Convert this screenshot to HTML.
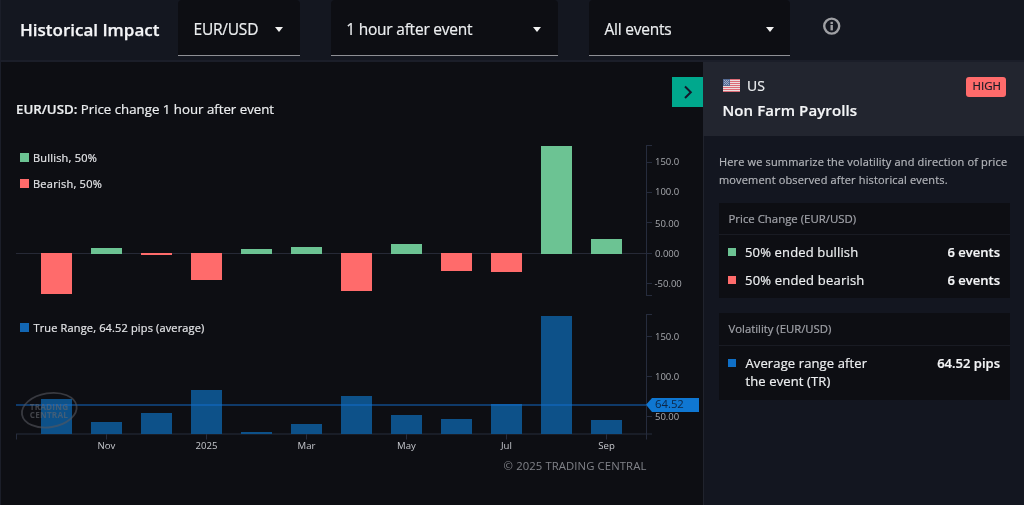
<!DOCTYPE html>
<html><head><meta charset="utf-8"><title>Historical Impact</title>
<style>
*{box-sizing:border-box;margin:0;padding:0}
html,body{-webkit-text-stroke:0.2px currentColor;width:1024px;height:505px;overflow:hidden;background:#0d0e13;font-family:"Open Sans","Liberation Sans",sans-serif;color:#e6e7ea}
.a{position:absolute;white-space:nowrap;line-height:1}
#hdr{position:absolute;left:0;top:0;width:1024px;height:62px;background:#141720;border-bottom:2px solid #1b1e29}
#lb{position:absolute;left:0;top:0;width:1px;height:505px;background:#1b1e29}
.sel{position:absolute;top:0;height:56px;background:#0d0e13;border-radius:4px 4px 0 0;border-bottom:1px solid #8e8f94}
.sel .t{position:absolute;left:15.5px;top:21.5px;font-size:15.5px;letter-spacing:-0.22px;line-height:1;color:#eceef0}
.car{position:absolute;top:27px;width:0;height:0;border-left:4.8px solid transparent;border-right:4.8px solid transparent;border-top:5.2px solid #f2f2f2}
#rp{position:absolute;left:703px;top:62px;width:321px;height:443px;background:#131620;border-left:1px solid #20232d}
#rph{position:absolute;left:703px;top:62px;width:321px;height:74px;background:#22252f}
.card{position:absolute;left:719px;width:291px;background:#0d0e13}
.card .hd{position:absolute;left:0;top:0;width:291px;border-bottom:1px solid #191b23}
.sq{position:absolute;width:8px;height:8px}
</style></head><body>
<div id="hdr"></div>
<div id="lb"></div>
<div class="a" style="left:20px;top:21.2px;font-size:17px;font-weight:600;letter-spacing:0px;-webkit-text-stroke:0.25px #f4f5f7;color:#f4f5f7">Historical Impact</div>

<div class="sel" style="left:178px;width:121.5px"><span class="t">EUR/USD</span><div class="car" style="left:96.6px"></div></div>
<div class="sel" style="left:330.7px;width:227.3px"><span class="t">1 hour after event</span><div class="car" style="left:202.6px"></div></div>
<div class="sel" style="left:589px;width:201px"><span class="t">All events</span><div class="car" style="left:176.6px"></div></div>

<svg class="a" style="left:822px;top:17px" width="20" height="20" viewBox="0 0 20 20">
<circle cx="9.7" cy="9.1" r="7.5" fill="none" stroke="#9fa0a4" stroke-width="2.4"/>
<rect x="8.5" y="4.8" width="2.4" height="2.2" fill="#9fa0a4"/>
<rect x="8.5" y="7.9" width="2.4" height="5.5" fill="#9fa0a4"/>
</svg>

<!-- chart -->
<div class="a" style="left:16px;top:102.5px;font-size:13.25px;color:#eceef0"><b style="font-weight:650">EUR/USD:</b> Price change 1 hour after event</div>

<div class="sq" style="left:20px;top:153px;width:9px;height:9px;background:#6cc393"></div>
<div class="a" style="left:33px;top:151.5px;font-size:11px;color:#e3e4e7;letter-spacing:0.2px">Bullish, 50%</div>
<div class="sq" style="left:20px;top:179px;width:9px;height:9px;background:#ff6b6b"></div>
<div class="a" style="left:33px;top:177.5px;font-size:11px;color:#e3e4e7;letter-spacing:0.25px">Bearish, 50%</div>

<svg class="a" style="left:0;top:0" width="704" height="505" viewBox="0 0 704 505">
<!-- chart 1 -->
<rect x="16" y="253" width="630" height="1" fill="#262936"/>
<g fill="#ff6b6b">
<rect x="41" y="253" width="31" height="41"/>
<rect x="141" y="253" width="31" height="2"/>
<rect x="191" y="253" width="31" height="27"/>
<rect x="341" y="253" width="31" height="38"/>
<rect x="441" y="253" width="31" height="18"/>
<rect x="491" y="253" width="31" height="19"/>
</g>
<g fill="#6cc393">
<rect x="91" y="248" width="31" height="6"/>
<rect x="241" y="249" width="31" height="5"/>
<rect x="291" y="247" width="31" height="7"/>
<rect x="391" y="244" width="31" height="10"/>
<rect x="541" y="146" width="31" height="108"/>
<rect x="591" y="239" width="31" height="15"/>
</g>
<g stroke="#262c3d" stroke-width="1" fill="none">
<path d="M646.5 145V296M646 145.5H652M646 162.5H652M646 192.5H652M646 222.5H652M646 253.5H652M646 283.5H652M646 295.5H652"/>
</g>
<g font-family="Open Sans, Liberation Sans, sans-serif" font-size="9.5" fill="#a7a9ae">
<text x="655" y="165.2">150.0</text>
<text x="655" y="195.2">100.0</text>
<text x="655" y="226.6">50.00</text>
<text x="655" y="256.9">0.000</text>
<text x="654.5" y="287.2">-50.00</text>
</g>

<!-- chart 2 -->
<path d="M16 434H652" stroke="#262c3d" stroke-width="1"/>
<g fill="#0d5189">
<rect x="41" y="399" width="31" height="35"/>
<rect x="91" y="422" width="31" height="12"/>
<rect x="141" y="413" width="31" height="21"/>
<rect x="191" y="390" width="31" height="44"/>
<rect x="241" y="432" width="31" height="2"/>
<rect x="291" y="424" width="31" height="10"/>
<rect x="341" y="396" width="31" height="38"/>
<rect x="391" y="415" width="31" height="19"/>
<rect x="441" y="419" width="31" height="15"/>
<rect x="491" y="404" width="31" height="30"/>
<rect x="541" y="316" width="31" height="118"/>
<rect x="591" y="420" width="31" height="14"/>
</g>
<g stroke="#262c3d" stroke-width="1" fill="none">
<path d="M646.5 314V439.5M646 314.5H652M646 336.5H652M646 376.5H652M646 416.5H652"/>
<path d="M16.5 434V439.5M106.5 434V439.5M206.5 434V439.5M306.5 434V439.5M406.5 434V439.5M506.5 434V439.5M606.5 434V439.5"/>
</g>
<rect x="16" y="404" width="630" height="2" fill="#1172d4" fill-opacity="0.45"/>
<path d="M646 404.8L652 398H699V412H652Z" fill="#0f77d2"/>
<text x="655" y="407.8" font-family="Open Sans, Liberation Sans, sans-serif" font-size="11.3" fill="#0d2544">64.52</text>
<g font-family="Open Sans, Liberation Sans, sans-serif" font-size="9.5" fill="#a7a9ae">
<text x="655" y="339.7">150.0</text>
<text x="655" y="379.7">100.0</text>
<text x="655" y="419.7">50.00</text>
</g>
<g font-family="Open Sans, Liberation Sans, sans-serif" font-size="9.6" fill="#c5c7cc" text-anchor="middle">
<text x="106.5" y="449">Nov</text>
<text x="206.5" y="449">2025</text>
<text x="306.5" y="449">Mar</text>
<text x="406.5" y="449">May</text>
<text x="506.5" y="449">Jul</text>
<text x="606.5" y="449">Sep</text>
</g>
<!-- watermark -->
<g opacity="0.6">
<ellipse cx="49.3" cy="410.2" rx="27.6" ry="17" fill="none" stroke="#55575e" stroke-width="1.8" transform="rotate(-9 49.3 410.2)"/>
<text x="49" y="410" text-anchor="middle" font-family="Open Sans, Liberation Sans, sans-serif" font-size="8.2" font-weight="700" fill="#65676e" letter-spacing="0.2">TRADING</text>
<text x="49" y="417.6" text-anchor="middle" font-family="Open Sans, Liberation Sans, sans-serif" font-size="8.2" font-weight="700" fill="#65676e" letter-spacing="0.2">CENTRAL</text>
</g>
<text x="503.6" y="469.6" font-family="Open Sans, Liberation Sans, sans-serif" font-size="11.3" fill="#808288" letter-spacing="0.1">© 2025 TRADING CENTRAL</text>
</svg>

<div class="sq" style="left:20px;top:323px;width:9px;height:9px;background:#1266b3"></div>
<div class="a" style="left:33.5px;top:322px;font-size:11px;color:#e3e4e7;letter-spacing:0.15px">True Range, 64.52 pips (average)</div>

<!-- teal toggle -->
<div class="a" style="left:672px;top:77px;width:31px;height:30px;background:#00a88d"></div>
<svg class="a" style="left:672px;top:77px" width="31" height="30" viewBox="0 0 31 30"><path d="M13 9.5L18.8 15.2L13 21" fill="none" stroke="#14192c" stroke-width="2"/></svg>

<!-- right panel -->
<div id="rp"></div>
<div id="rph"></div>
<svg class="a" style="left:723px;top:79px" width="17" height="13" viewBox="0 0 17 13">
<rect width="17" height="13" fill="#ecdcdc"/>
<g fill="#dc6b76"><rect y="0" width="17" height="1"/><rect y="2" width="17" height="1"/><rect y="4" width="17" height="1"/><rect y="6" width="17" height="1"/><rect y="8" width="17" height="1"/><rect y="10" width="17" height="1"/><rect y="12" width="17" height="1"/></g>
<rect width="7" height="7" fill="#556a93"/>
<g fill="#c9d0e0"><rect x="1" y="1" width="0.8" height="0.8"/><rect x="3" y="1" width="0.8" height="0.8"/><rect x="5" y="1" width="0.8" height="0.8"/><rect x="1" y="3" width="0.8" height="0.8"/><rect x="3" y="3" width="0.8" height="0.8"/><rect x="5" y="3" width="0.8" height="0.8"/><rect x="1" y="5" width="0.8" height="0.8"/><rect x="3" y="5" width="0.8" height="0.8"/><rect x="5" y="5" width="0.8" height="0.8"/><rect x="2" y="2" width="0.8" height="0.8"/><rect x="4" y="2" width="0.8" height="0.8"/><rect x="2" y="4" width="0.8" height="0.8"/><rect x="4" y="4" width="0.8" height="0.8"/></g>
</svg>
<div class="a" style="left:747px;top:79px;font-size:14px;color:#eceef0">US</div>
<div class="a" style="left:722.5px;top:103px;font-size:15px;font-weight:600;color:#f4f5f7;letter-spacing:0.1px">Non Farm Payrolls</div>
<div class="a" style="left:966px;top:77px;width:40px;height:20px;background:#ff6b6b;border-radius:3px"></div>
<div class="a" style="left:972.5px;top:80px;font-size:11.5px;color:#1b1d27">HIGH</div>

<div class="a" style="left:719px;top:152.5px;font-size:11px;line-height:18px;color:#b3b5ba;letter-spacing:0.15px;width:300px">Here we summarize the volatility and direction of price<br>movement observed after historical events.</div>

<div class="card" style="top:203px;height:95px">
<div class="hd" style="height:32px"></div>
</div>
<div class="a" style="left:728.5px;top:212.5px;font-size:11.4px;color:#a0a2a8">Price Change (EUR/USD)</div>
<div class="sq" style="left:728px;top:248px;background:#6cc393"></div>
<div class="a" style="left:745px;top:246px;font-size:13px;color:#eceef0;letter-spacing:0.15px">50% ended bullish</div>
<div class="a" style="left:944px;top:245.5px;width:56px;text-align:right;font-size:13px;font-weight:600;color:#f4f5f7">6 events</div>
<div class="sq" style="left:728px;top:276px;background:#ff6b6b"></div>
<div class="a" style="left:745px;top:274px;font-size:13px;color:#eceef0;letter-spacing:0.2px">50% ended bearish</div>
<div class="a" style="left:944px;top:273.5px;width:56px;text-align:right;font-size:13px;font-weight:600;color:#f4f5f7">6 events</div>

<div class="card" style="top:313px;height:87px">
<div class="hd" style="height:33px"></div>
</div>
<div class="a" style="left:728.5px;top:323px;font-size:11.3px;color:#a0a2a8">Volatility (EUR/USD)</div>
<div class="sq" style="left:728px;top:359px;background:#0f6fc6"></div>
<div class="a" style="left:745.5px;top:353.5px;font-size:13px;line-height:18.5px;letter-spacing:0.12px;color:#eceef0;width:140px">Average range after<br>the event (TR)</div>
<div class="a" style="left:900px;top:357px;width:100px;text-align:right;font-size:13px;font-weight:600;color:#f4f5f7">64.52 pips</div>
</body></html>
